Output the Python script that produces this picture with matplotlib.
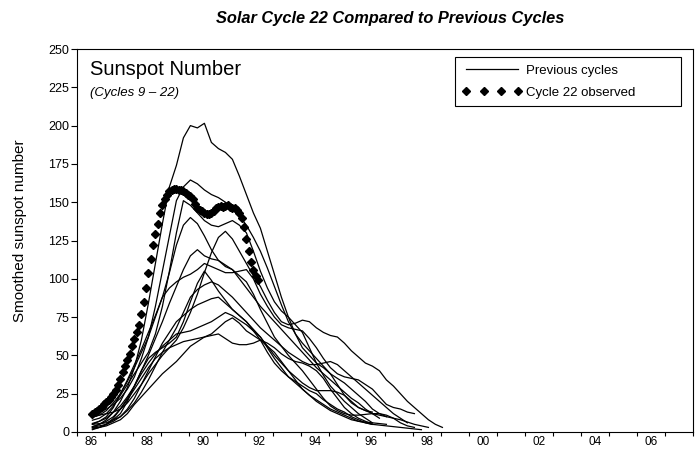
import numpy as np
import matplotlib
matplotlib.use("Agg")
import matplotlib.pyplot as plt
from matplotlib.lines import Line2D

plt.rcParams['font.family'] = ['Liberation Sans', 'DejaVu Sans']

# Cycles are aligned on their starting minimum; values are smoothed sunspot
# numbers every quarter year after that minimum.
cycle_start = 1986.55
quarter = 0.25

cycle09 = [10, 11, 12, 13, 15, 19, 25, 31, 38, 44, 50, 55, 60, 68, 78, 90, 104, 117, 127, 131,
           126, 118, 110, 102, 95, 86, 78, 72, 70, 71, 73, 72, 68, 65, 63, 62, 58, 53, 49, 45,
           43, 40, 34, 30, 25, 20, 16, 12, 8, 5, 3]
cycle10 = [3, 4, 5, 7, 10, 14, 19, 26, 34, 43, 52, 60, 68, 78, 88, 93, 96, 98, 96, 92,
           88, 83, 78, 73, 68, 64, 60, 56, 52, 49, 46, 44, 44, 45, 46, 44, 40, 36, 32, 28,
           24, 20, 16, 12, 9, 6]
cycle11 = [5, 7, 10, 16, 25, 33, 42, 52, 62, 75, 88, 104, 122, 135, 140, 136, 128, 119, 112, 108,
           106, 102, 98, 90, 80, 71, 62, 56, 50, 45, 40, 34, 28, 22, 17, 14, 12, 11, 11, 11.5,
           12, 12, 11, 9, 6, 4, 3]
cycle12 = [2, 3, 5, 9, 15, 21, 28, 35, 42, 48, 52, 55, 57, 59, 60, 61, 62, 64, 68, 72,
           74.5, 71, 66, 63, 60, 56, 52, 46, 40, 34, 28, 24, 20, 17, 14, 12, 10, 8, 7, 6.5,
           6, 5.5, 5]
cycle13 = [5, 5.5, 6, 8, 10, 15, 22, 31, 40, 49, 58, 65, 72, 76, 80, 83, 85, 87, 88, 84,
           80, 76, 72, 67, 62, 56, 50, 45, 40, 36, 32, 29, 27, 27, 27, 26, 24, 20, 16, 14,
           12, 11, 10, 9, 8, 6.5, 5, 4, 3]
cycle14 = [2.7, 3, 4, 6, 8, 12, 18, 23, 28, 33, 38, 42, 46, 51, 56, 59, 62, 63, 64, 61,
           58, 57, 57, 58, 60, 58, 55, 51, 48, 46, 45, 43, 40, 35, 28, 22, 16, 12, 9, 7,
           5, 4.5, 4, 3.5, 3, 2.5, 2, 1.5]
cycle15 = [1.5, 3, 5, 8, 12, 20, 30, 40, 48, 52, 55, 58, 62, 72, 85, 97, 105, 99, 92, 86,
           80, 76, 72, 66, 60, 52, 45, 40, 36, 33, 30, 27, 25, 21, 18, 15, 13, 10, 8, 6,
           5]
cycle16 = [5.6, 7, 9, 13, 17, 23, 30, 38, 45, 51, 56, 60, 64, 65, 66, 68, 70, 72, 75, 78,
           76, 73, 70, 66, 62, 55, 48, 42, 36, 32, 28, 24, 21, 18, 15, 13, 11, 9, 7, 6,
           5]
cycle17 = [3.5, 5, 7, 10, 15, 22, 30, 40, 50, 61, 72, 84, 95, 106, 115, 119, 115, 113, 112, 109,
           106, 100, 94, 88, 82, 77, 72, 67, 62, 57, 52, 47, 42, 38, 34, 30, 26, 22, 19, 15,
           12, 9]
cycle18 = [7.7, 9, 12, 17, 24, 31, 38, 45, 52, 64, 82, 105, 130, 151, 148, 143, 138, 135, 134, 136,
           138, 135, 130, 118, 105, 94, 85, 79, 75, 70, 65, 55, 45, 37, 30, 25, 20, 16, 12, 9,
           6]
cycle19 = [3.4, 5, 8, 13, 20, 29, 42, 60, 84, 110, 136, 160, 174, 192, 200, 198.5, 201.5, 189, 185, 182.5,
           178, 167, 155, 143, 133, 118, 103, 88, 75, 64, 55, 50, 45, 42, 38, 35, 32, 28, 24, 20,
           15, 12, 10]
cycle20 = [9.6, 11, 14, 19, 25, 34, 44, 54, 65, 76, 88, 94, 98, 101, 103, 106, 110, 108, 106, 104,
           104, 105, 106, 100, 90, 82, 75, 70, 68, 67, 66, 61, 55, 48, 42, 38, 36, 35, 34, 31,
           28, 23, 18, 16, 15, 13, 12]
cycle21 = [12.2, 13, 15, 18, 22, 28, 36, 48, 62, 82, 105, 128, 151, 160, 164.5, 162, 158, 155, 153, 150,
           146, 141, 135, 127, 118, 107, 95, 83, 72, 64, 58, 53, 48, 43, 38, 31, 24, 19, 16, 14,
           13]
previous_cycles = [cycle09, cycle10, cycle11, cycle12, cycle13, cycle14, cycle15,
                   cycle16, cycle17, cycle18, cycle19, cycle20, cycle21]

# Cycle 22, monthly observed values
cycle22_start = 1986.55
cycle22 = [12, 13, 14, 15, 16.5, 18, 19.5, 21, 23, 25, 27.5, 31,
           34.5, 39, 43, 47, 51, 56, 61, 65.5, 70, 77, 85, 94,
           104, 113, 122, 129, 136, 143, 148, 152, 155, 157, 158, 158.5,
           158.5, 158, 158, 157.5, 156, 155, 154, 152, 149, 146.5, 145, 144,
           143, 142.5, 142, 143, 144.5, 146, 147, 147.5, 147, 147.5, 148, 147,
           146.5, 146, 145, 143, 140, 134, 126, 118, 111, 106, 102, 99]

year_ticks = np.arange(1986, 2009)
year_labels = ['86', '88', '90', '92', '94', '96', '98', '00', '02', '04', '06']
label_years = np.arange(1986.5, 2007, 2)
y_ticks = np.arange(0, 251, 25)

fig = plt.figure(figsize=(6.99, 4.49), dpi=100)
ax = fig.add_axes([77 / 699, 1 - 432 / 449, 616 / 699, 383 / 449])

for vals in previous_cycles:
    t = cycle_start + quarter * np.arange(len(vals))
    ax.plot(t, vals, color='black', lw=0.9, solid_joinstyle='round')

t22 = cycle22_start + np.arange(len(cycle22)) / 12.0
ax.plot(t22, cycle22, ls='none', marker='D', ms=4.3, color='black', zorder=5)

ax.set_xlim(1986, 2008)
ax.set_ylim(0, 250)
ax.set_xticks(year_ticks)
ax.set_xticklabels([])
ax.set_xticks(label_years, minor=True)
ax.set_xticklabels(year_labels, minor=True)
ax.tick_params(axis='x', which='major', direction='out', length=3, width=0.8)
ax.tick_params(axis='x', which='minor', length=0, pad=3, labelsize=8.5)
ax.set_yticks(y_ticks)
ax.tick_params(axis='y', direction='out', length=4, width=0.8, pad=1.5, labelsize=9)
for sp in ax.spines.values():
    sp.set_linewidth(0.8)

ax.text(0.021, 0.932, 'Sunspot Number', transform=ax.transAxes, fontsize=14.5,
        va='baseline', ha='left')
ax.text(0.021, 0.877, '(Cycles 9 \u2013 22)', transform=ax.transAxes, fontsize=9.5,
        style='italic', va='baseline', ha='left')

handles = [Line2D([], [], color='black', lw=0.9),
           Line2D([], [], ls='none', marker='D', ms=4.3, color='black')]
leg = ax.legend(handles, ['Previous cycles', 'Cycle 22 observed'], loc='upper left',
                bbox_to_anchor=(0.614, 0.5, 0.367, 0.479), mode='expand',
                borderaxespad=0, numpoints=4, handlelength=4.5, handletextpad=0.3,
                fontsize=9.5, fancybox=False, framealpha=1, edgecolor='black',
                borderpad=0.55, labelspacing=0.75)
leg.get_frame().set_linewidth(0.8)

fig.text(0.558, 0.958, 'Solar Cycle 22 Compared to Previous Cycles', ha='center',
         va='center', fontsize=11.8, fontweight='bold', style='italic')
fig.text(0.029, 0.486, 'Smoothed sunspot number', rotation=90, ha='center',
         va='center', fontsize=11)

fig.savefig('out.png', dpi=100)
